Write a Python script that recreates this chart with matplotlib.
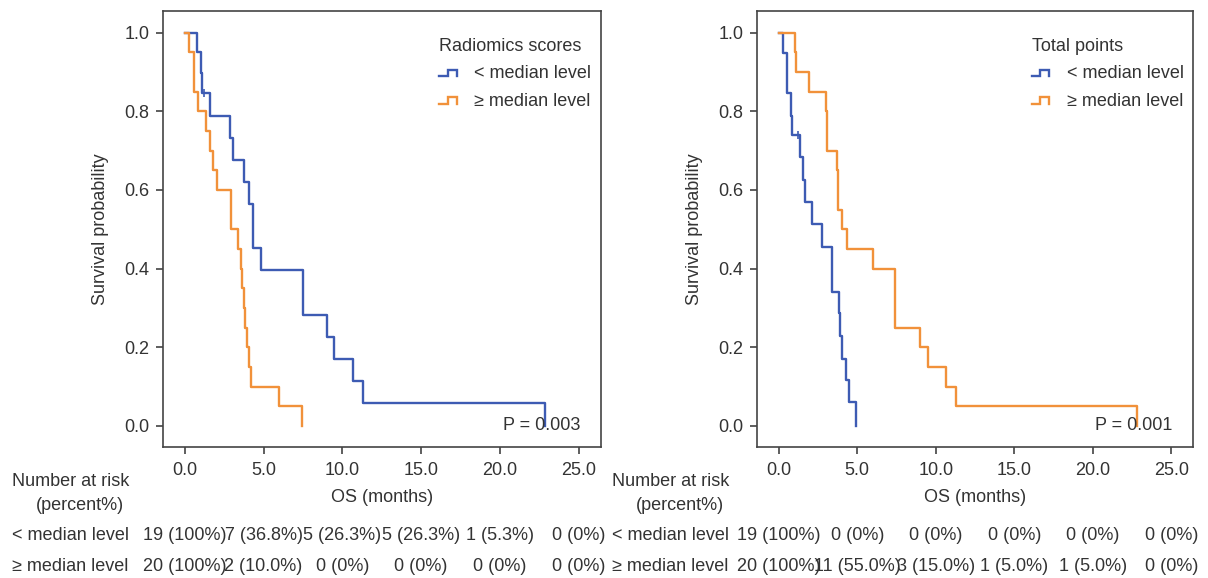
import numpy as np
import matplotlib
matplotlib.use("Agg")
import matplotlib.pyplot as plt
from matplotlib.lines import Line2D
from matplotlib.legend_handler import HandlerBase
from matplotlib import transforms

plt.rcParams["font.family"] = ["Liberation Sans", "DejaVu Sans"]

BLUE = "#3D5BB3"
ORANGE = "#F1913A"
TXT = "#333333"
FS = 13

# ---- left panel: radiomics scores ----
rad_low_t = [0, 0.79, 1.0, 1.1, 1.59, 2.84, 3.05, 3.75, 4.07, 4.35, 4.86, 7.53, 9.0, 9.48, 10.65, 11.28, 22.84]
rad_low_s = [1.0, 0.950, 0.897, 0.846, 0.789, 0.733, 0.676, 0.619, 0.563, 0.451, 0.396, 0.282, 0.226, 0.170, 0.114, 0.057, 0.0]
rad_low_cens_t = [1.25]
rad_low_cens_s = [0.846]

rad_high_t = [0, 0.25, 0.57, 0.85, 1.36, 1.63, 1.8, 2.02, 2.95, 3.37, 3.54, 3.65, 3.75, 3.8, 3.95, 4.05, 4.18, 5.98, 7.45]
rad_high_s = [1.0, 0.95, 0.85, 0.80, 0.75, 0.70, 0.65, 0.60, 0.50, 0.45, 0.40, 0.35, 0.30, 0.25, 0.20, 0.15, 0.10, 0.05, 0.0]

# ---- right panel: total points ----
tot_low_t = [0, 0.27, 0.55, 0.81, 0.87, 1.34, 1.55, 1.7, 2.12, 2.78, 3.39, 3.81, 3.9, 4.05, 4.26, 4.45, 4.94]
tot_low_s = [1.0, 0.947, 0.846, 0.789, 0.74, 0.684, 0.625, 0.57, 0.513, 0.455, 0.341, 0.286, 0.228, 0.171, 0.116, 0.06, 0.0]
tot_low_cens_t = [1.2]
tot_low_cens_s = [0.74]

tot_high_t = [0, 1.02, 1.08, 1.93, 3.03, 3.06, 3.1, 3.71, 3.78, 3.8, 4.05, 4.34, 5.99, 7.42, 9.0, 9.54, 10.66, 11.29, 22.84]
tot_high_s = [1.0, 0.95, 0.90, 0.85, 0.80, 0.75, 0.70, 0.65, 0.60, 0.55, 0.50, 0.45, 0.40, 0.25, 0.20, 0.15, 0.10, 0.05, 0.0]

risk_times = [0, 5, 10, 15, 20, 25]
rad_risk_low = ["19 (100%)", "7 (36.8%)", "5 (26.3%)", "5 (26.3%)", "1 (5.3%)", "0 (0%)"]
rad_risk_high = ["20 (100%)", "2 (10.0%)", "0 (0%)", "0 (0%)", "0 (0%)", "0 (0%)"]
tot_risk_low = ["19 (100%)", "0 (0%)", "0 (0%)", "0 (0%)", "0 (0%)", "0 (0%)"]
tot_risk_high = ["20 (100%)", "11 (55.0%)", "3 (15.0%)", "1 (5.0%)", "1 (5.0%)", "0 (0%)"]

group_labels = ["< median level", "\u2265 median level"]


class StepHandler(HandlerBase):
    # small step-shaped legend key
    def create_artists(self, legend, orig_handle, xdescent, ydescent, width, height, fontsize, trans):
        xs = np.array([0.0, 0.4, 0.4, 0.8, 0.8]) * width - xdescent
        ys = np.array([0.15, 0.15, 0.65, 0.65, 0.15]) * height - ydescent
        ln = Line2D(xs, ys, color=orig_handle.get_color(), lw=orig_handle.get_linewidth(),
                    solid_joinstyle="miter", transform=trans)
        return [ln]


fig = plt.figure(figsize=(12.08, 5.78), dpi=100)
ax1 = fig.add_axes([0.1347, 0.2272, 0.3626, 0.7538])
ax2 = fig.add_axes([0.6264, 0.2272, 0.3614, 0.7538])

panels = [
    (ax1, "Radiomics scores", rad_low_t, rad_low_s, rad_low_cens_t, rad_low_cens_s,
     rad_high_t, rad_high_s, "P = 0.003", rad_risk_low, rad_risk_high, 12 / 1208),
    (ax2, "Total points", tot_low_t, tot_low_s, tot_low_cens_t, tot_low_cens_s,
     tot_high_t, tot_high_s, "P = 0.001", tot_risk_low, tot_risk_high, 612 / 1208),
]

for ax, title, lt, ls, lct, lcs, ht, hs, ptxt, rlow, rhigh, xleft in panels:
    ax.step(lt, ls, where="post", color=BLUE, lw=1.7)
    ax.step(ht, hs, where="post", color=ORANGE, lw=1.7)
    ax.plot(lct, lcs, ls="none", marker="|", ms=6, mew=1.2, color=BLUE)

    ax.set_xlim(-1.4, 26.4)
    ax.set_ylim(-0.053, 1.055)
    ax.set_xticks(risk_times)
    ax.set_xticklabels([f"{v:.1f}" for v in risk_times])
    ax.set_yticks([0, 0.2, 0.4, 0.6, 0.8, 1.0])
    ax.set_yticklabels([f"{v:.1f}" for v in [0, 0.2, 0.4, 0.6, 0.8, 1.0]])
    ax.tick_params(direction="out", length=5, width=1.1, colors=TXT, labelsize=FS)
    ax.tick_params(axis="x", pad=6)
    ax.tick_params(axis="y", pad=4.5)
    for sp in ax.spines.values():
        sp.set_color("#444444")
        sp.set_linewidth(1.2)

    ax.set_ylabel("Survival probability", fontsize=FS, color=TXT, va="center")
    ax.yaxis.set_label_coords(-0.143, 0.5)
    ax.set_xlabel("OS (months)", fontsize=FS, color=TXT, va="center")
    ax.xaxis.set_label_coords(0.5, -0.116)

    ax.text(25.1, 0.0, ptxt, ha="right", va="center", fontsize=FS, color=TXT)

    handles = [Line2D([], [], color=BLUE, lw=1.7), Line2D([], [], color=ORANGE, lw=1.7)]
    leg = ax.legend(handles, group_labels, title=title, loc="upper right",
                    bbox_to_anchor=(1.011, 0.972), frameon=False, fontsize=FS,
                    title_fontsize=FS, handler_map={Line2D: StepHandler()},
                    handlelength=1.22, handletextpad=0.72, labelspacing=0.58, borderpad=0.3)
    leg._legend_box.align = "left"
    for t in leg.get_texts():
        t.set_color(TXT)
    leg.get_title().set_color(TXT)

    # number-at-risk table
    tr = transforms.blended_transform_factory(ax.transData, fig.transFigure)
    fig.text(xleft, (578 - 482) / 578, "Number at risk", ha="left", va="center", fontsize=FS, color=TXT)
    fig.text(xleft + 24 / 1208, (578 - 506) / 578, "(percent%)", ha="left", va="center", fontsize=FS, color=TXT)
    for yrow, lab, vals in [((578 - 535) / 578, group_labels[0], rlow), ((578 - 566.5) / 578, group_labels[1], rhigh)]:
        fig.text(xleft, yrow, lab, ha="left", va="center", fontsize=FS, color=TXT)
        for t, v in zip(risk_times, vals):
            ax.text(t, yrow, v, transform=tr, ha="center", va="center", fontsize=FS, color=TXT)

fig.savefig("out.png", dpi=100)
